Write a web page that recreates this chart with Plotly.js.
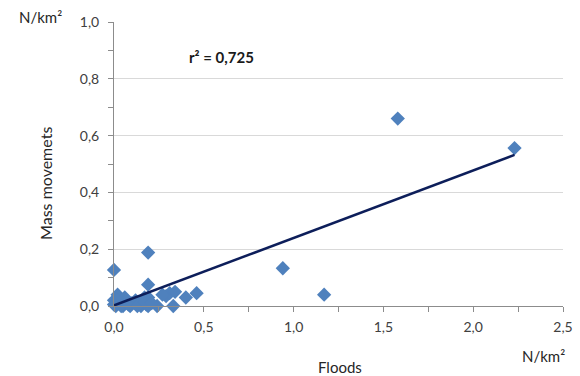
<!DOCTYPE html>
<html><head><meta charset="utf-8">
<script src="https://cdn.plot.ly/plotly-3.0.1.min.js"></script>
<style>html,body{margin:0;padding:0;background:#fff}#c{width:580px;height:376px}</style>
</head><body><div id="c"></div>
<script>
const floods = [0.0,0.01,0.02,0.03,0.05,0.06,0.07,0.09,0.10,0.12,0.15,0.17,0.18,0.19,0.19,0.19,0.19,0.24,0.29,0.31,0.33,0.34,0.40,0.46,0.0,0.94,1.17,1.58,2.23,0.0,0.02,0.04,0.08,0.13,0.17,0.27,0.21];
const massMovements = [0.005,0.0,0.04,0.01,0.0,0.03,0.02,0.0,0.01,0.02,0.0,0.03,0.005,0.188,0.075,0.03,0.0,0.0,0.035,0.045,0.0,0.05,0.03,0.045,0.127,0.133,0.04,0.66,0.556,0.02,0.02,0.0,0.005,0.0,0.015,0.04,0.01];
const trendX = [0.0, 2.23];
const trendY = [0.002, 0.532];
const r2Label = "r² = 0,725";
const unitLabel = "N/km²";

const font = "Lato, 'Open Sans', sans-serif";
const data = [
  {x: floods, y: massMovements, type:'scatter', mode:'markers',
   marker:{symbol:'diamond', size:11, color:'#4F81BD'}, cliponaxis:false, hoverinfo:'none'},
  {x: trendX, y: trendY, type:'scatter', mode:'lines',
   line:{color:'#0D1E5A', width:2.5}, hoverinfo:'none'}
];
const layout = {
  width:580, height:376, showlegend:false,
  paper_bgcolor:'#fff', plot_bgcolor:'#fff',
  separators:',.',
  margin:{l:114, r:17, t:22, b:70},
  font:{family:font, size:14, color:'#404040'},
  xaxis:{range:[0,2.5], dtick:0.5, tickformat:'.1f', showgrid:false, zeroline:false,
         showline:true, linecolor:'#8c8c8c', linewidth:1,
         ticks:'outside', ticklen:5, tickcolor:'#8c8c8c', ticklabelstandoff:3,
         minor:{dtick:0.25, ticks:'outside', ticklen:5, tickcolor:'#8c8c8c'},
         tickfont:{size:14, color:'#404040'}},
  yaxis:{range:[0,1], dtick:0.2, tickformat:'.1f', showgrid:true, gridcolor:'#d9d9d9', zeroline:false,
         showline:true, linecolor:'#8c8c8c', linewidth:1,
         ticks:'outside', ticklen:5, tickcolor:'#8c8c8c', ticklabelstandoff:6,
         minor:{dtick:0.1, ticks:'outside', ticklen:5, tickcolor:'#8c8c8c', showgrid:false},
         tickfont:{size:14, color:'#404040'}},
  annotations:[
    {text:'Floods', xref:'paper', yref:'paper', x:0.503, y:-0.215, xanchor:'center', yanchor:'middle', showarrow:false, font:{size:15,color:'#262626'}},
    {text:'Mass movemets', xref:'paper', yref:'paper', x:-0.154, y:0.433, xanchor:'center', yanchor:'middle', textangle:-90, showarrow:false, font:{size:16,color:'#262626'}},
    {text:unitLabel, xref:'paper', yref:'paper', x:-0.163, y:1.018, xanchor:'center', yanchor:'middle', showarrow:false, font:{size:15,color:'#262626'}},
    {text:unitLabel, xref:'paper', yref:'paper', x:0.956, y:-0.176, xanchor:'center', yanchor:'middle', showarrow:false, font:{size:15,color:'#262626'}},
    {text:'<b>'+r2Label+'</b>', xref:'paper', yref:'paper', x:0.24, y:0.877, xanchor:'center', yanchor:'middle', showarrow:false, font:{size:15,color:'#1a1a1a'}}
  ]
};
Plotly.newPlot('c', data, layout, {staticPlot:true, displayModeBar:false});
</script></body></html>
